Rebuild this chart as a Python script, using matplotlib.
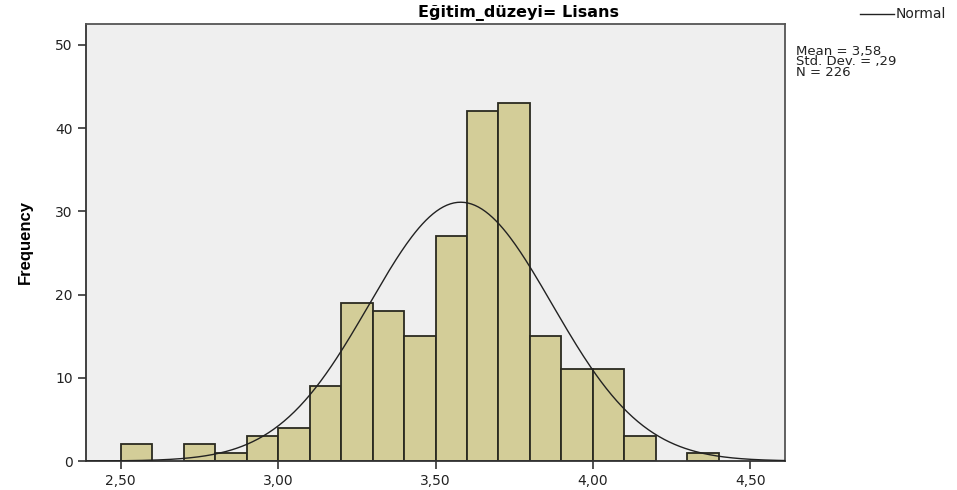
import matplotlib
matplotlib.use("Agg")
import matplotlib.pyplot as plt
import numpy as np

# Histogram bins (left edges, width 0.1) and frequencies
bin_left = [2.50, 2.60, 2.70, 2.80, 2.90, 3.00, 3.10, 3.20, 3.30, 3.40,
            3.50, 3.60, 3.70, 3.80, 3.90, 4.00, 4.10, 4.20, 4.30]
freq = [2, 0, 2, 1, 3, 4, 9, 19, 18, 15, 27, 42, 43, 15, 11, 11, 3, 0, 1]
bin_width = 0.1

mean = 3.58
std = 0.29
n = 226

x_ticks = [2.5, 3.0, 3.5, 4.0, 4.5]
x_labels = ["2,50", "3,00", "3,50", "4,00", "4,50"]
y_ticks = [0, 10, 20, 30, 40, 50]

plt.rcParams['font.family'] = ['DejaVu Sans']

fig = plt.figure(figsize=(9.57, 4.9), dpi=100)
ax = fig.add_axes([86 / 957, 1 - 461 / 490, (785 - 86) / 957, (461 - 24) / 490])
ax.set_facecolor('#efefef')

for left, f in zip(bin_left, freq):
    if f > 0:
        ax.bar(left, f, width=bin_width, align='edge', color='#d3cd98',
               edgecolor='#2a2a20', linewidth=1.3, zorder=2)

# normal curve scaled to counts
xs = np.linspace(2.39, 4.61, 400)
ys = n * bin_width * np.exp(-0.5 * ((xs - mean) / std) ** 2) / (std * np.sqrt(2 * np.pi))
ax.plot(xs, ys, color='#222222', linewidth=1.0, zorder=3)

ax.set_xlim(2.39, 4.61)
ax.set_ylim(0, 52.5)
ax.set_xticks(x_ticks)
ax.set_xticklabels(x_labels)
ax.set_yticks(y_ticks)
ax.tick_params(axis='both', direction='out', length=6, width=1.2, color='#333333',
               labelsize=10, labelcolor='#222222')
for s in ax.spines.values():
    s.set_color('#555555')
    s.set_linewidth(1.3)
ax.spines['left'].set_color('#333333')
ax.spines['bottom'].set_color('#333333')

fig.text(25 / 957, 1 - 242 / 490, "Frequency", rotation=90, ha='center', va='center',
         fontsize=12, fontweight='bold', family=['Liberation Sans Narrow', 'Liberation Sans'])
fig.text(518 / 957, 1 - 13 / 490, "Eğitim_düzeyi= Lisans", ha='center', va='center',
         fontsize=11.5, fontweight='bold')

# legend entry for the curve
fig.add_artist(plt.Line2D([860 / 957, 894 / 957], [1 - 14 / 490, 1 - 14 / 490],
                          color='#222222', linewidth=1.0))
fig.text(896 / 957, 1 - 14 / 490, "Normal", ha='left', va='center', fontsize=10, color='#222222')

fig.text(796 / 957, 1 - 62 / 490, "Mean = 3,58\nStd. Dev. = ,29\nN = 226", ha='left', va='center',
         fontsize=9.5, color='#222222', linespacing=0.8)

fig.savefig("out.png", dpi=100)
